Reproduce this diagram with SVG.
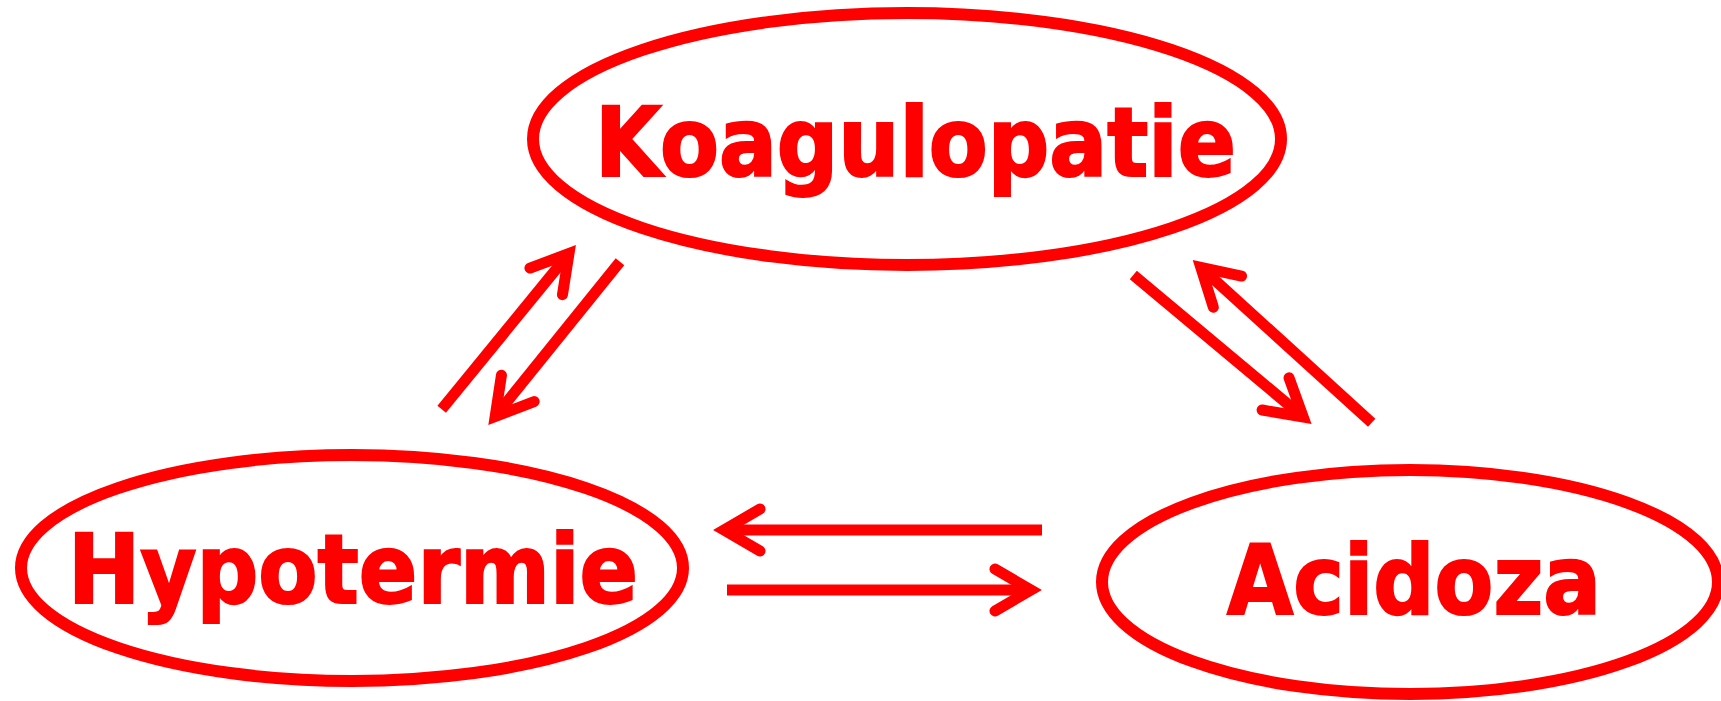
<svg xmlns="http://www.w3.org/2000/svg" width="1721" height="701" viewBox="0 0 1721 701">
<style>
.node{fill:#fff;stroke:#ff0000;stroke-width:12}
.lbl{fill:#ff0000;stroke:#ff0000;stroke-width:2;stroke-linejoin:miter;font-family:"DejaVu Sans Condensed","DejaVu Sans",sans-serif;font-weight:bold;font-size:96px}
.conn{fill:none;stroke:#ff0000;stroke-width:11;stroke-linecap:butt}
</style>
<defs>
<marker id="ah" markerUnits="userSpaceOnUse" orient="auto" refX="0" refY="0" markerWidth="90" markerHeight="90" viewBox="-45 -45 90 90" overflow="visible">
<path d="M -36 -21 L 0 0 L -36 21" fill="none" stroke="#ff0000" stroke-width="11" stroke-linecap="round" stroke-linejoin="miter"/>
</marker>
</defs>
<rect width="1721" height="701" fill="#fff"/>
<g id="node-koagulopatie">
<ellipse class="node" cx="907" cy="139" rx="374" ry="126"/>
<text class="lbl" x="595" y="176" textLength="641" lengthAdjust="spacingAndGlyphs">Koagulopatie</text>
</g>
<g id="node-hypotermie">
<ellipse class="node" cx="352" cy="568" rx="331" ry="113"/>
<text class="lbl" x="68" y="603" textLength="570" lengthAdjust="spacingAndGlyphs">Hypotermie</text>
</g>
<g id="node-acidoza">
<ellipse class="node" cx="1410" cy="582" rx="308" ry="112"/>
<text class="lbl" x="1227" y="614" textLength="374" lengthAdjust="spacingAndGlyphs">Acidoza</text>
</g>
<g id="connectors">
<line class="conn" x1="441.7" y1="409.3" x2="569" y2="253.5" marker-end="url(#ah)"/>
<line class="conn" x1="620" y1="261.7" x2="495.2" y2="416.4" marker-end="url(#ah)"/>
<line class="conn" x1="1133.3" y1="275" x2="1303.2" y2="417" marker-end="url(#ah)"/>
<line class="conn" x1="1371.7" y1="422.7" x2="1200.8" y2="267.4" marker-end="url(#ah)"/>
<line class="conn" x1="1042" y1="530" x2="724" y2="530" marker-end="url(#ah)"/>
<line class="conn" x1="727" y1="590" x2="1031" y2="590" marker-end="url(#ah)"/>
</g>
</svg>
